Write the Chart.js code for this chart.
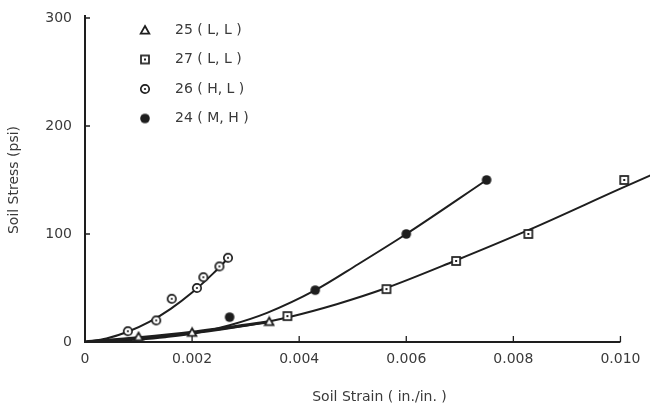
<!DOCTYPE html>
<html>
<head>
<meta charset="utf-8">
<script src="https://cdn.jsdelivr.net/npm/chart.js@4/dist/chart.umd.min.js"></script>
<style>
  html, body { margin: 0; padding: 0; background: #fff; overflow: hidden; }
  #wrap { width: 650px; height: 406px; overflow: hidden; }
</style>
</head>
<body>
<div id="wrap"><canvas id="soilChart" width="680" height="406"></canvas></div>
<script>
// Measured points (strain in in./in., stress in psi)
const strain25 = [0.0010, 0.0020, 0.00344];
const stress25 = [5, 9, 19];
const strain27 = [0.00378, 0.00563, 0.00693, 0.00828, 0.01007];
const stress27 = [24, 49, 75, 100, 150];
const strain26 = [0.0008, 0.00133, 0.00162, 0.00209, 0.00221, 0.00251, 0.00267];
const stress26 = [10, 20, 40, 50, 60, 70, 78];
const strain24 = [0.0027, 0.0043, 0.0060, 0.0075];
const stress24 = [23, 48, 100, 150];

// Fitted curves
const fit25X = [0, 0.001, 0.002, 0.0034];
const fit25Y = [0, 4, 9, 18.5];
const fit27X = [0, 0.001, 0.002, 0.003, 0.0038, 0.0047, 0.0056, 0.0069, 0.0083, 0.0100, 0.011];
const fit27Y = [0, 3, 8, 15, 23, 35, 49.5, 75, 104, 142, 164];
const fit26X = [0, 0.0004, 0.0008, 0.0012, 0.0016, 0.0020, 0.0024, 0.00268];
const fit26Y = [0, 3.3, 9.5, 18.6, 30.7, 45.8, 63.8, 78];
const fit24X = [0, 0.0005, 0.001, 0.0015, 0.0021, 0.0027, 0.0034, 0.0043, 0.0051, 0.0060, 0.0075];
const fit24Y = [0, 0.6, 2.2, 4.5, 8.5, 15.5, 27, 48, 72, 100, 150];

const xTickValues = [0, 0.002, 0.004, 0.006, 0.008, 0.010];
const yTickValues = [0, 100, 200, 300];

const ink = '#1e1e1e';
const textColor = '#3a3a3a';
const fontFamily = '"DejaVu Sans", sans-serif';

function toPoints(xs, ys) {
  return xs.map((x, i) => ({ x: x, y: ys[i] }));
}

// Small marker images
function makeMarker(kind) {
  const c = document.createElement('canvas');
  c.width = 12; c.height = 12;
  const g = c.getContext('2d');
  g.strokeStyle = ink;
  g.fillStyle = '#fff';
  g.lineWidth = 1.7;
  if (kind === 'square') {
    g.fillRect(2, 2, 8, 8);
    g.strokeRect(2, 2, 8, 8);
    g.fillStyle = ink;
    g.fillRect(5, 5, 2, 2);
  } else if (kind === 'circle') {
    g.beginPath(); g.arc(6, 6, 4.2, 0, Math.PI * 2); g.fill(); g.stroke();
    g.fillStyle = ink;
    g.beginPath(); g.arc(6, 6, 1.1, 0, Math.PI * 2); g.fill();
  } else if (kind === 'triangle') {
    g.lineWidth = 1.8;
    g.beginPath(); g.moveTo(6, 2); g.lineTo(10.3, 9.6); g.lineTo(1.7, 9.6); g.closePath();
    g.fill(); g.stroke();
  } else {
    g.fillStyle = ink;
    g.beginPath(); g.arc(6, 6, 4.8, 0, Math.PI * 2); g.fill();
  }
  return c;
}

const markers = {
  triangle: makeMarker('triangle'),
  square: makeMarker('square'),
  circle: makeMarker('circle'),
  dot: makeMarker('dot')
};

function fitLine(xs, ys, width) {
  return {
    data: toPoints(xs, ys),
    showLine: true,
    borderColor: ink,
    borderWidth: width || 2,
    pointRadius: 0,
    cubicInterpolationMode: 'monotone',
    order: 2
  };
}

function pointSet(label, xs, ys, marker) {
  return {
    label: label,
    data: toPoints(xs, ys),
    showLine: false,
    pointStyle: markers[marker],
    legendMarker: marker,
    pointRadius: 5,
    order: 1
  };
}

// Axes drawn by hand: ticks point into the plot
const axesPlugin = {
  id: 'axes',
  beforeDatasetsDraw(chart) {
    const { ctx, scales: { x, y } } = chart;
    const x0 = x.getPixelForValue(0);
    const y0 = y.getPixelForValue(0);
    const xEnd = x.getPixelForValue(0.010);
    const yTop = y.getPixelForValue(300);
    ctx.save();
    ctx.strokeStyle = ink;
    ctx.lineWidth = 2;
    ctx.beginPath();
    ctx.moveTo(x0, yTop - 3);
    ctx.lineTo(x0, y0);
    ctx.lineTo(xEnd, y0);
    ctx.stroke();
    ctx.lineWidth = 1.3;
    ctx.beginPath();
    yTickValues.slice(1).forEach(v => {
      const py = y.getPixelForValue(v);
      ctx.moveTo(x0, py); ctx.lineTo(x0 + 5, py);
    });
    xTickValues.slice(1).forEach(v => {
      const px = x.getPixelForValue(v);
      ctx.moveTo(px, y0); ctx.lineTo(px, y0 - 6);
    });
    ctx.stroke();
    ctx.restore();
  }
};

// Legend inside the plot, top left
const legendPlugin = {
  id: 'insideLegend',
  afterDraw(chart) {
    const { ctx } = chart;
    const sets = chart.data.datasets.filter(d => d.label);
    ctx.save();
    ctx.font = '14px ' + fontFamily;
    ctx.fillStyle = textColor;
    ctx.textBaseline = 'middle';
    sets.forEach((d, i) => {
      const cy = 30 + i * 29.5;
      const img = markers[d.legendMarker];
      ctx.drawImage(img, 145 - img.width / 2, cy - img.height / 2);
      ctx.fillText(d.label, 175, cy);
    });
    ctx.restore();
  }
};

const ctx = document.getElementById('soilChart').getContext('2d');

const soilChart = new Chart(ctx, {
  type: 'scatter',
  data: {
    datasets: [
      pointSet('25 ( L, L )', strain25, stress25, 'triangle'),
      pointSet('27 ( L, L )', strain27, stress27, 'square'),
      pointSet('26 ( H, L )', strain26, stress26, 'circle'),
      pointSet('24 ( M, H )', strain24, stress24, 'dot'),
      fitLine(fit25X, fit25Y, 3),
      fitLine(fit27X, fit27Y),
      fitLine(fit26X, fit26Y),
      fitLine(fit24X, fit24Y)
    ]
  },
  options: {
    responsive: false,
    animation: false,
    devicePixelRatio: 1,
    layout: { padding: { left: 0, top: 18, right: 1, bottom: 0 } },
    plugins: {
      legend: { display: false },
      tooltip: { enabled: false }
    },
    scales: {
      x: {
        type: 'linear',
        min: 0,
        max: 0.011,
        grid: { display: false, drawTicks: false },
        border: { display: false },
        afterBuildTicks: scale => { scale.ticks = xTickValues.map(v => ({ value: v })); },
        afterFit: scale => { scale.height = 64; scale.paddingLeft = 0; scale.paddingRight = 0; },
        ticks: {
          padding: 9,
          color: textColor,
          font: { family: fontFamily, size: 14 },
          maxRotation: 0,
          callback: v => v === 0 ? '0' : v.toFixed(3)
        },
        title: {
          display: true,
          text: 'Soil Strain ( in./in. )',
          color: textColor,
          font: { family: fontFamily, size: 14 },
          padding: { top: 0, bottom: 0 }
        }
      },
      y: {
        type: 'linear',
        min: 0,
        max: 300,
        grid: { display: false, drawTicks: false },
        border: { display: false },
        afterBuildTicks: scale => { scale.ticks = yTickValues.map(v => ({ value: v })); },
        afterFit: scale => { scale.width = 85; scale.paddingTop = 0; scale.paddingBottom = 0; },
        ticks: {
          padding: 13,
          color: textColor,
          font: { family: fontFamily, size: 14 }
        },
        title: {
          display: true,
          text: 'Soil Stress (psi)',
          color: textColor,
          font: { family: fontFamily, size: 14 },
          padding: { top: 6, bottom: 0 }
        }
      }
    }
  },
  plugins: [axesPlugin, legendPlugin]
});
</script>
</body>
</html>
